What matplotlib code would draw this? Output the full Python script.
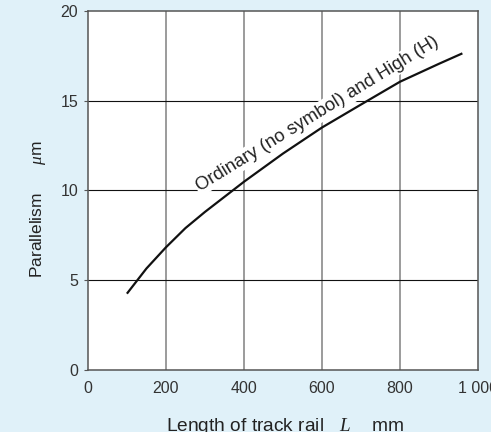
import matplotlib
matplotlib.use("Agg")
import matplotlib.pyplot as plt
from matplotlib.ticker import FuncFormatter

# values
rail_length = [100, 150, 200, 250, 300, 400, 500, 600, 700, 800, 900, 960]
parallelism = [4.25, 5.65, 6.83, 7.9, 8.8, 10.48, 12.05, 13.5, 14.78, 16.05, 17.05, 17.63]
curve_label = "Ordinary (no symbol) and High (H)"
xticks = [0, 200, 400, 600, 800, 1000]
yticks = [0, 5, 10, 15, 20]

plt.rcParams["font.family"] = ["Liberation Sans", "DejaVu Sans"]
plt.rcParams["mathtext.fontset"] = "custom"
plt.rcParams["mathtext.it"] = "Liberation Serif:italic"
plt.rcParams["mathtext.rm"] = "Liberation Sans"

bg = "#e0f1f9"
fig = plt.figure(figsize=(4.91, 4.32), dpi=100, facecolor=bg)
ax = fig.add_axes([0.179, 0.1435, 0.7945, 0.8315])
ax.set_facecolor("white")

ax.set_xlim(0, 1000)
ax.set_ylim(0, 20)
ax.set_xticks(xticks)
ax.set_yticks(yticks)
ax.xaxis.set_major_formatter(FuncFormatter(lambda v, p: "{:,}".format(int(v)).replace(",", " ")))

# grid: vertical grey, horizontal black
for xv in xticks[1:-1]:
    ax.axvline(xv, color="#8a8a8a", lw=1.2, zorder=1)
for yv in yticks[1:-1]:
    ax.axhline(yv, color="#111111", lw=0.8, zorder=1)

for s in ax.spines.values():
    s.set_color("#555555")
    s.set_linewidth(1.1)

ax.tick_params(axis="x", length=0, pad=8, labelsize=11.5, colors="#333333")
ax.tick_params(axis="y", length=3, width=0.8, pad=4, labelsize=11.5, colors="#333333")
ax.tick_params(axis="y", color="#555555")

ax.plot(rail_length, parallelism, color="#111111", lw=1.6, zorder=5,
        solid_capstyle="butt", solid_joinstyle="round")

ax.text(287, 9.95, curve_label, rotation=31.6, rotation_mode="anchor",
        ha="left", va="baseline", fontsize=13.2, color="#222222", zorder=3,
        bbox=dict(facecolor="white", edgecolor="none", pad=1.0))

ax.set_xlabel("Length of track rail   $\\it{L}$    mm", fontsize=13.8, color="#222222")
ax.xaxis.set_label_coords(0.505, -0.128)
ax.set_ylabel("Parallelism      $\\mu$m", fontsize=12.5, color="#222222")
ax.yaxis.set_label_coords(-0.103, 0.4495)

fig.savefig("out.png", dpi=100, facecolor=bg)
